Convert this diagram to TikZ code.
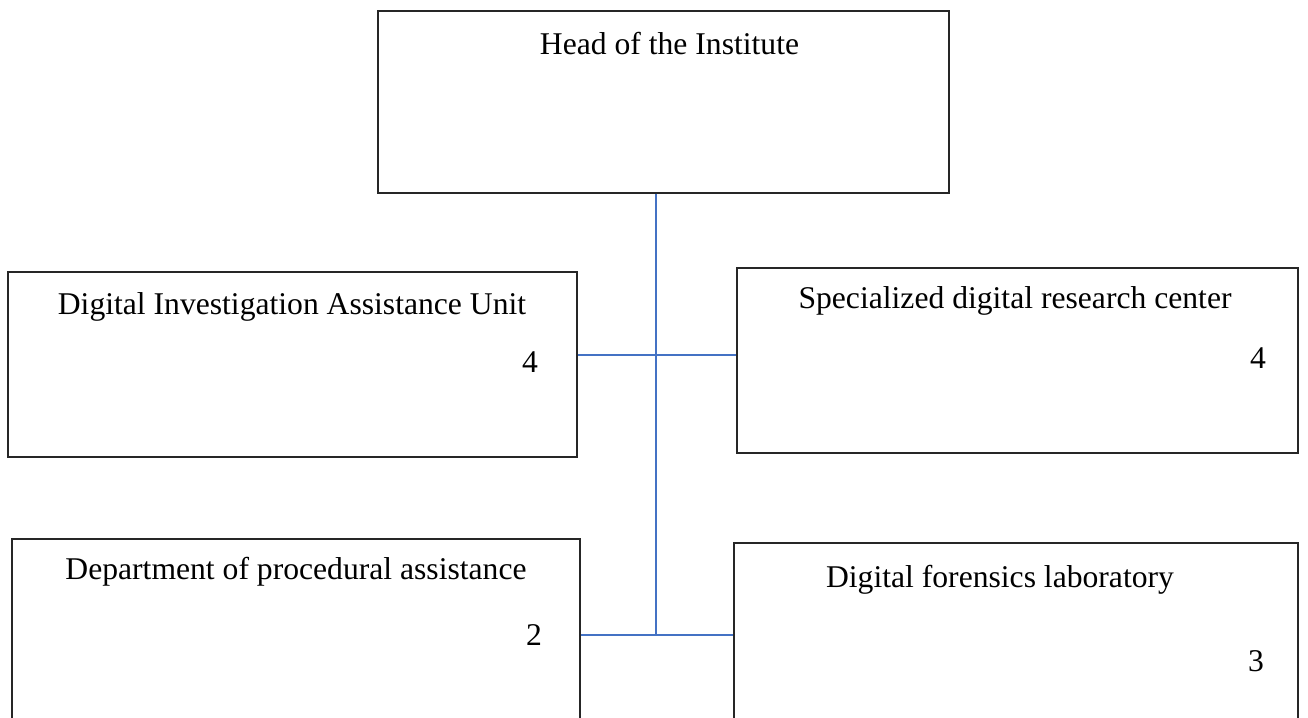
\documentclass[tikz,border=0pt]{standalone}
\usepackage{fontspec}
\setmainfont{Liberation Serif}
\usetikzlibrary{positioning}
\tikzset{
  unitbox/.style={draw=black!85, line width=0.8pt, rectangle},
  title/.style={font=\fontsize{18}{22}\selectfont, inner sep=0pt},
  link/.style={draw={rgb,255:red,68;green,114;blue,196}, line width=0.8pt},
}

\begin{document}
\begin{tikzpicture}
      \useasboundingbox (0,0) rectangle (26.16,-14.34);
      \clip (0,0) rectangle (26.16,-14.34);
      % boxes
      \node[unitbox, minimum width=11.42cm, minimum height=3.64cm] (head) at (13.27,-2.04) {};
      \node[unitbox, minimum width=11.38cm, minimum height=3.70cm] (dia) at (5.85,-7.29) {};
      \node[unitbox, minimum width=11.22cm, minimum height=3.70cm] (sdr) at (20.35,-7.21) {};
      \node[unitbox, minimum width=11.36cm, minimum height=4.42cm] (dpa) at (5.92,-12.99) {};
      \node[unitbox, minimum width=11.28cm, minimum height=4.34cm] (dfl) at (20.32,-13.03) {};
      % titles
      \node[title] (headT) at (13.39,-0.88) {Head of the Institute};
      \node[title] (diaT) at (5.84,-6.14) {Digital Investigation Assistance Unit};
      \node[title] (sdrT) at (20.30,-6.02) {Specialized digital research center};
      \node[title] (dpaT) at (5.92,-11.44) {Department of procedural assistance};
      \node[title] (dflT) at (20.00,-11.60) {Digital forensics laboratory};
      % staff numbers
      \node[title] (diaN) at (10.60,-7.24) {4};
      \node[title] (sdrN) at (25.16,-7.16) {4};
      \node[title] (dpaN) at (10.68,-12.70) {2};
      \node[title] (dflN) at (25.12,-13.22) {3};
      % connectors
      \coordinate (j1) at (13.12,-7.10);
      \coordinate (j2) at (13.12,-12.70);
      \draw[link] (head.south -| j1) -- (j2);
      \draw[link] (dia.east |- j1) -- (sdr.west |- j1);
      \draw[link] (dpa.east |- j2) -- (dfl.west |- j2);
    \end{tikzpicture}
\end{document}
